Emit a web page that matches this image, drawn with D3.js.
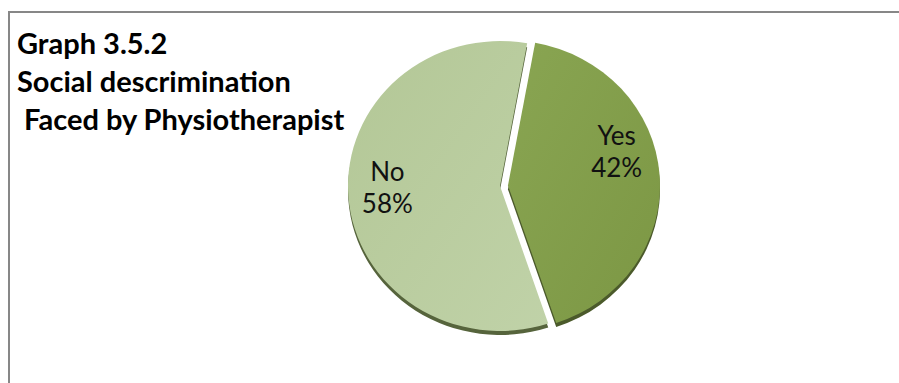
<!DOCTYPE html>
<html>
<head>
<meta charset="utf-8">
<script src="https://cdn.jsdelivr.net/npm/d3@7"></script>
<style>
  html, body { margin: 0; padding: 0; background: #ffffff; }
  svg { display: block; }
</style>
</head>
<body>
<svg id="chart" width="899" height="383"></svg>
<script>
// Survey answers and their shares (%)
const categories = ["Yes", "No"];
const values = [42, 58];
const titleLines = ["Graph 3.5.2", "Social descrimination", " Faced by Physiotherapist"];

const W = 899, H = 383;
const svg = d3.select("#chart");
const FONT = "Lato, 'Open Sans', sans-serif";

// Chart frame (only top and left edges fall inside the view)
svg.append("path")
  .attr("d", `M9,${H + 5} V12 H${W + 5}`)
  .attr("fill", "none")
  .attr("stroke", "#878787")
  .attr("stroke-width", 2);

// Pie geometry: slightly flattened 3-D disc
const cx = 500, cy = 186, r = 152, squash = 145 / 152, depth = 4, explode = 8;
const startAngle = 10.3 * Math.PI / 180;

const data = categories.map((c, i) => ({ category: c, value: values[i] }));
const pie = d3.pie().sort(null).value(d => d.value)
  .startAngle(startAngle).endAngle(startAngle + 2 * Math.PI);
const arc = d3.arc().innerRadius(0).outerRadius(r);
const arcs = pie(data);

const faceColors = {
  Yes: ["#89a552", "#7c9744"],
  No:  ["#b3c796", "#c0d2a8"]
};
const sideColors = { Yes: "#4b5a2b", No: "#56643c" };

const defs = svg.append("defs");
arcs.forEach(a => {
  const g = defs.append("linearGradient")
    .attr("id", "grad-" + a.data.category)
    .attr("x1", 0).attr("y1", 0).attr("x2", 1).attr("y2", 1);
  g.append("stop").attr("offset", "0%").attr("stop-color", faceColors[a.data.category][0]);
  g.append("stop").attr("offset", "100%").attr("stop-color", faceColors[a.data.category][1]);
});

function offsetOf(a) {
  const mid = (a.startAngle + a.endAngle) / 2;
  const e = a.data.category === "Yes" ? explode : 0;
  return [e * Math.sin(mid), -e * Math.cos(mid) * squash];
}

// Side (depth) of each slice, drawn beneath the faces
svg.append("g").selectAll("path")
  .data(arcs)
  .join("path")
  .attr("transform", a => {
    const [dx, dy] = offsetOf(a);
    return `translate(${cx + dx},${cy + dy + depth}) scale(1,${squash})`;
  })
  .attr("d", arc)
  .attr("fill", a => sideColors[a.data.category]);

// Slice faces
svg.append("g").selectAll("path")
  .data(arcs)
  .join("path")
  .attr("transform", a => {
    const [dx, dy] = offsetOf(a);
    return `translate(${cx + dx},${cy + dy}) scale(1,${squash})`;
  })
  .attr("d", arc)
  .attr("fill", a => `url(#grad-${a.data.category})`);

// Data labels: category and percentage
const labelArc = d3.arc().innerRadius(r * 0.73).outerRadius(r * 0.73);
const labelShift = { Yes: -23, No: -3 };
const labels = svg.append("g").selectAll("text")
  .data(arcs)
  .join("text")
  .attr("font-family", FONT)
  .attr("font-size", 26)
  .attr("fill", "#111")
  .attr("text-anchor", "middle")
  .attr("transform", a => {
    const [dx, dy] = offsetOf(a);
    const [lx, ly] = labelArc.centroid(a);
    return `translate(${cx + dx + lx - 2},${cy + dy + ly * squash + labelShift[a.data.category]})`;
  });
labels.append("tspan").attr("x", 0).attr("y", -10).text(a => a.data.category);
labels.append("tspan").attr("x", 0).attr("y", 22).text(a => a.data.value + "%");

// Title block
const title = svg.append("text")
  .attr("font-family", FONT)
  .attr("font-weight", "bold")
  .attr("font-size", 29)
  .attr("fill", "#000")
  .attr("xml:space", "preserve")
  .style("white-space", "pre");
titleLines.forEach((line, i) => {
  title.append("tspan")
    .attr("x", 17)
    .attr("y", 54 + i * 38)
    .text(line);
});
</script>
</body>
</html>
